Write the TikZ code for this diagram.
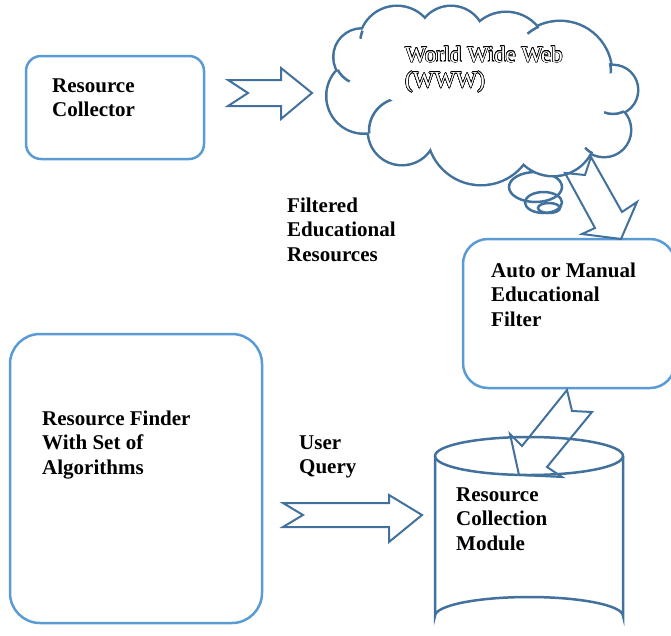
\documentclass[tikz,border=0pt]{standalone}
\usepackage{fontspec}
\setmainfont{Liberation Serif}
\usepackage{contour}
\contourlength{0.55pt}

\definecolor{boxblue}{HTML}{5B9BD5}
\definecolor{darkblue}{HTML}{41719C}

% stacked left-aligned lines whose baseline is the first line
\newcommand{\stackedlines}[1]{\vtop{\halign{##\hfil\cr #1\crcr}}}

\tikzset{
  lbl/.style={anchor=base west, inner sep=0pt,
    font=\fontsize{21}{24.5}\selectfont\bfseries},
  roundbox/.style={draw=boxblue, line width=2.5pt},
  blockarrow/.style={draw=darkblue, line width=2pt, line join=miter},
  shapeline/.style={draw=darkblue, line width=2.5pt},
}

% puffs of the cloud: centre x / centre y / radius
\newcommand{\puffs}{362/57/27.5, 397/44/37, 451/40/33, 506/53/40,
  560/73/51, 613/90/24, 604/130/26, 553/133/42, 481/131/53,
  402/131/33, 364/96/36.5}

\begin{document}
\begin{tikzpicture}[x=1pt, y=-1pt]
\useasboundingbox (0,0) rectangle (671,635);

% rounded boxes
\draw[roundbox, rounded corners=15pt] (26,56) rectangle (204,159);
\draw[roundbox, rounded corners=30pt] (10,334) rectangle (262,623);
\draw[roundbox, rounded corners=25pt] (463,239) rectangle (675,388);

% thought bubbles under the cloud
\draw[shapeline] (535.5,187) ellipse [x radius=26.5, y radius=15];
\draw[shapeline] (543.5,202.5) ellipse [x radius=18.5, y radius=10.5];
\draw[shapeline] (549,208) ellipse [x radius=11, y radius=5];

% cloud: stroke every puff twice as wide, then fill the union white,
% which leaves only the outer outline visible
\foreach \cx/\cy/\r in \puffs
  \draw[darkblue, line width=5pt] (\cx,\cy) circle[radius=\r];
\fill[white] (362,57) -- (397,44) -- (451,40) -- (506,53) -- (560,73)
  -- (613,90) -- (604,130) -- (553,133) -- (481,131) -- (402,131)
  -- (364,96) -- cycle;
\foreach \cx/\cy/\r in \puffs
  \fill[white] (\cx,\cy) circle[radius=\r];
% inner hooks where puffs overlap
\foreach \cx/\cy/\r/\mx/\my/\cr in {362/57/27.5/343/76.5/8.5,
    397/44/37/361/34.5/4.5, 560/73/51/532.5/29/7, 560/73/51/609/68.5/5.5,
    613/90/24/614/113/10, 604/130/26/588.5/151/5, 402/131/33/381/117/20}{
  \begin{scope}
    \clip (\mx,\my) circle[radius=\cr];
    \draw[shapeline] (\cx,\cy) circle[radius=\r];
  \end{scope}
}
\coordinate (www) at (483,96);

% cylinder (resource collection module)
\draw[shapeline, fill=white] (435,456) -- (435,616)
  arc[start angle=180, end angle=360, x radius=94, y radius=19] -- (623,456);
\draw[shapeline] (529,456) ellipse [x radius=94, y radius=19];

% block arrows
\draw[blockarrow] (228,80) -- (281,80) -- (281,68) -- (312,93) -- (281,119)
  -- (281,106) -- (228,106) -- (248,93) -- cycle;
\draw[blockarrow] (591,157) -- (622,212) -- (637,202) -- (621,239) -- (582,234)
  -- (595,228) -- (565,173) -- (585,175) -- cycle;
\draw[blockarrow] (567,390) -- (572,411) -- (592,412) -- (547,467) -- (562,477)
  -- (519,475) -- (510,434) -- (522,446) -- cycle;
\draw[blockarrow] (283,503) -- (389,503) -- (389,495) -- (422,515) -- (389,542)
  -- (389,527) -- (283,527) -- (303,515) -- cycle;

% labels
\node[lbl] (collector) at (52,92) {\stackedlines{Resource\cr Collector}};
\node[lbl] (filtered) at (287,212)
  {\stackedlines{Filtered\cr Educational\cr Resources}};
\node[lbl] (filter) at (491,277)
  {\stackedlines{Auto or Manual\cr Educational\cr Filter}};
\node[lbl] (finder) at (42,425)
  {\stackedlines{Resource Finder\cr With Set of\cr Algorithms}};
\node[lbl] (query) at (299,449) {\stackedlines{User\cr Query}};
\node[lbl] (module) at (456,501)
  {\stackedlines{Resource\cr Collection\cr Module}};
\node[anchor=base west, inner sep=0pt, text=white,
      font=\fontsize{22.8}{25.5}\selectfont] (wwwtext) at (405,62)
  {\stackedlines{\contour{black}{World Wide Web}\cr \contour{black}{(WWW)}}};
\end{tikzpicture}
\end{document}
